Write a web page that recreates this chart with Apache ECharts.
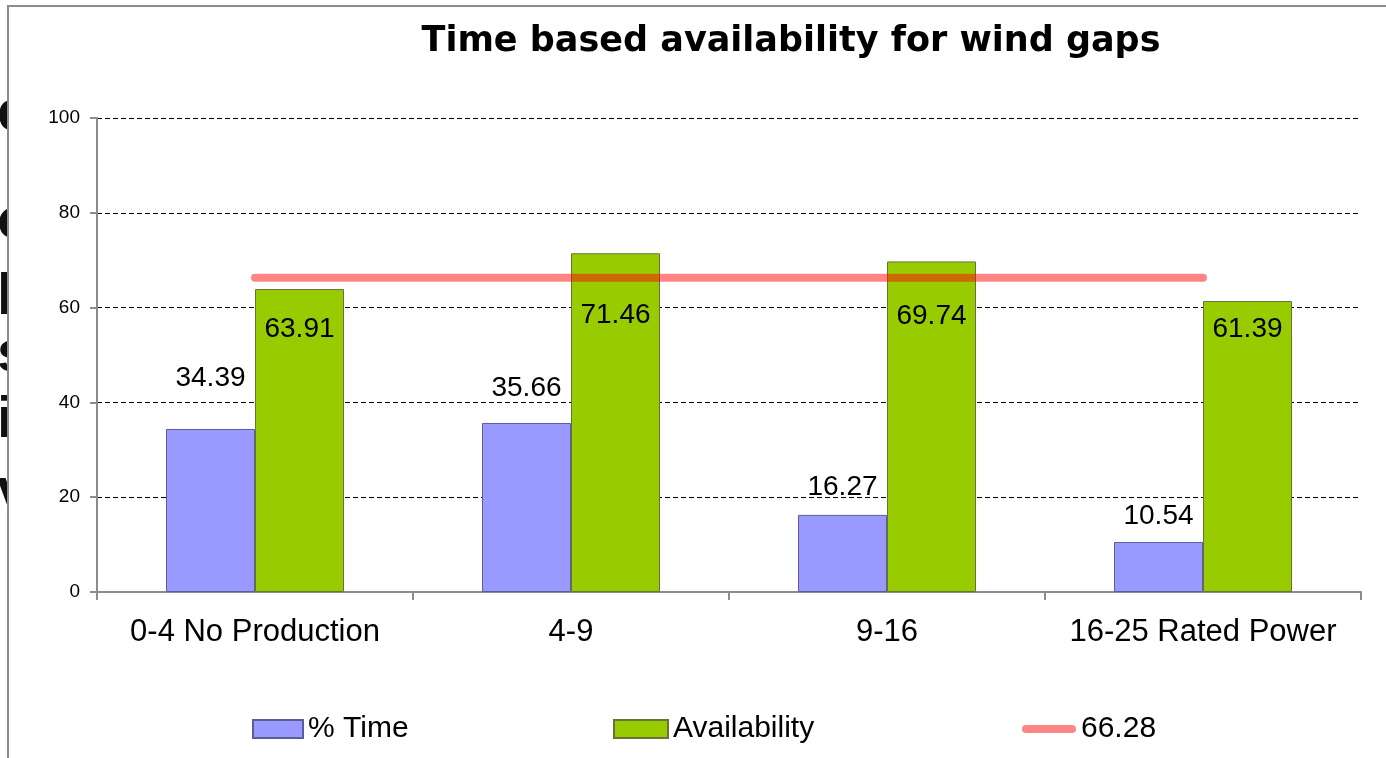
<!DOCTYPE html>
<html><head><meta charset="utf-8">
<script src="https://cdn.jsdelivr.net/npm/echarts@6/dist/echarts.min.js"></script>
<style>html,body{margin:0;padding:0;background:#fff}#c{width:1386px;height:758px}</style>
</head><body><div id="c"></div>
<script>
// ---- data ----
const categories = ['0-4 No Production', '4-9', '9-16', '16-25 Rated Power'];
const timeShare = [34.39, 35.66, 16.27, 10.54];
const availability = [63.91, 71.46, 69.74, 61.39];
const averageAvailability = 66.28;
const yTicks = [0, 20, 40, 60, 80, 100];
const seriesNames = ['% Time', 'Availability', '66.28'];
const titleText = 'Time based availability for wind gaps';

// ---- layout-only nudges (not data) ----
const timeLabelNudge = [-37, -21, -14, -12];
const availLabelNudge = [26, 48, 41, 14];
const edgeLetters = ['e', 'o', 'l', 's', 'i', 'v'];
const edgeLetterY = [114, 222, 298, 355, 421, 492];

const FONT = '"Liberation Sans", Arial, sans-serif';
const lineColor = 'rgba(255,0,0,0.48)';
const linePath = 'path://M4,0H50A4,4,0,0,1,50,8H4A4,4,0,0,1,4,0Z';

const chart = echarts.init(document.getElementById('c'), null, {renderer: 'canvas'});
chart.setOption({
  animation: false,
  textStyle: {fontFamily: FONT},
  title: {
    text: titleText, left: 791, top: 24, textAlign: 'center', padding: 0,
    textStyle: {fontFamily: '"DejaVu Sans", sans-serif', fontSize: 35, fontWeight: 'bold', color: '#000'}
  },
  grid: {left: 97, right: 25, top: 118, bottom: 166, containLabel: false},
  legend: [
    {data: [{name: seriesNames[0], icon: 'rect'}], left: 252, top: 714, padding: 0, itemWidth: 50, itemHeight: 18,
     textStyle: {fontSize: 30, color: '#000', fontFamily: FONT}},
    {data: [{name: seriesNames[1], icon: 'rect'}], left: 613, top: 714, padding: 0, itemWidth: 54, itemHeight: 18,
     textStyle: {fontSize: 30, color: '#000', fontFamily: FONT}},
    {data: [{name: seriesNames[2], icon: linePath, itemStyle: {color: lineColor}}], left: 1022, top: 714, padding: 0,
     itemWidth: 54, itemHeight: 8,
     textStyle: {fontSize: 30, color: '#000', fontFamily: FONT}}
  ],
  xAxis: {
    type: 'category', data: categories,
    axisLine: {lineStyle: {color: '#8c8c8c', width: 2}},
    axisTick: {show: true, length: 8, lineStyle: {color: '#8c8c8c', width: 2}},
    axisLabel: {interval: 0, fontSize: 31, color: '#000', margin: 25, fontFamily: FONT},
    splitLine: {show: false}
  },
  yAxis: {
    type: 'value', min: yTicks[0], max: yTicks[yTicks.length - 1], interval: yTicks[1] - yTicks[0],
    axisLine: {show: true, lineStyle: {color: '#8c8c8c', width: 2}},
    axisTick: {show: true, length: 7, lineStyle: {color: '#8c8c8c', width: 2}},
    axisLabel: {fontSize: 19, color: '#000', margin: 17, fontFamily: FONT},
    splitLine: {show: true, lineStyle: {color: '#000', width: 1, type: [5, 3]}}
  },
  series: [
    {
      name: seriesNames[0], type: 'bar', barWidth: 89, barGap: '0%',
      itemStyle: {color: '#9999FF', borderColor: '#5c5c99', borderWidth: 1},
      data: timeShare.map((v, i) => ({value: v, label: {offset: [0, timeLabelNudge[i]]}})),
      label: {show: true, position: 'top', distance: 0, fontSize: 28, color: '#000', fontFamily: FONT,
              formatter: p => p.value.toFixed(2)}
    },
    {
      name: seriesNames[1], type: 'bar', barWidth: 89, barGap: '0%',
      itemStyle: {color: '#99CC00', borderColor: '#66743a', borderWidth: 1},
      data: availability.map((v, i) => ({value: v, label: {offset: [0, availLabelNudge[i]]}})),
      label: {show: true, position: 'insideTop', distance: 0, fontSize: 28, color: '#000', fontFamily: FONT,
              formatter: p => p.value.toFixed(2)}
    },
    {
      name: seriesNames[2], type: 'line', showSymbol: false, symbol: 'none',
      data: categories.map(() => averageAvailability),
      lineStyle: {color: lineColor, width: 8, cap: 'round'},
      itemStyle: {color: lineColor},
      z: 5
    }
  ],
  graphic: [
    ...edgeLetters.map((ch, i) => ({
      type: 'text', z: -2, x: -3, y: edgeLetterY[i],
      style: {text: ch, font: 'bold 58px ' + FONT, fill: '#111', verticalAlign: 'middle', align: 'left'}
    })),
    {type: 'rect', z: -1, shape: {x: 8, y: 6, width: 1400, height: 800},
     style: {fill: '#fff', stroke: '#8c8c8c', lineWidth: 2}}
  ]
});
</script></body></html>
